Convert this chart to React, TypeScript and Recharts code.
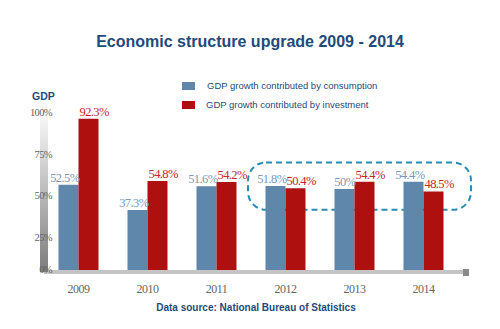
import React from 'react';
import { BarChart, Bar, XAxis, YAxis, LabelList, Legend, ReferenceArea } from 'recharts';

const years = ['2009', '2010', '2011', '2012', '2013', '2014'];
const consumption = [52.5, 37.3, 51.6, 51.8, 50, 54.4];
const investment = [92.3, 54.8, 54.2, 50.4, 54.4, 48.5];
const yTicks = [0, 25, 50, 75, 100];
const seriesNames = ['GDP growth contributed by consumption', 'GDP growth contributed by investment'];

const data = years.map((y, i) => ({ year: y, consumption: consumption[i], investment: investment[i] }));

const BLUE = '#5f87ac';
const RED = '#ae1010';
const NAVY = '#1f4a7a';

const YTick = (props: any) => {
  const { x, y, payload } = props;
  const v = payload.value;
  const dy = v === 0 ? -3 : 6.5;
  return (
    <text x={x + 10} y={y + dy} textAnchor="end" dominantBaseline="central"
      fontFamily="Liberation Serif" fontSize={10.5} fill="#666" letterSpacing={-0.6}>
      {v}%
    </text>
  );
};

const makeLabel = (side: 'left' | 'right', color: string) => (props: any) => {
  const { x, y, width, value } = props;
  const tx = side === 'left' ? x + width + 1 : x + 1;
  return (
    <text x={tx} y={y - 3} textAnchor={side === 'left' ? 'end' : 'start'}
      fontFamily="Liberation Serif" fontSize={12.5} fill={color} letterSpacing={-0.6}>
      {`${value}%`}
    </text>
  );
};

const LegendContent = () => (
  <div style={{ fontFamily: 'Liberation Sans, Arial', fontSize: 9.5, color: NAVY }}>
    {seriesNames.map((n, i) => (
      <div key={n} style={{ display: 'flex', alignItems: 'center', height: 19 }}>
        <span style={{ display: 'inline-block', width: 13, height: 8, background: i === 0 ? BLUE : RED, marginRight: i === 0 ? 12 : 11 }} />
        <span>{n}</span>
      </div>
    ))}
  </div>
);

const DashedBox = (props: any) => {
  const { x, y, width, height } = props;
  return (
    <rect x={x - 3} y={y} width={width + 16} height={height} rx={18} ry={18}
      fill="none" stroke="#2a8cb4" strokeWidth={2} strokeDasharray="6 4" />
  );
};

export default function App() {
  return (
    <div style={{ position: 'absolute', left: 0, top: 0, width: 500, height: 329, background: '#fff' }}>
      <div style={{ position: 'absolute', left: 0, top: 33, width: 500, textAlign: 'center', fontFamily: 'Liberation Sans, Arial', fontWeight: 'bold', fontSize: 16, color: NAVY }}>
        Economic structure upgrade 2009 - 2014
      </div>
      <div style={{ position: 'absolute', left: 32, top: 90, fontFamily: 'Liberation Sans, Arial', fontWeight: 'bold', fontSize: 10.5, color: NAVY }}>
        GDP
      </div>
      <div style={{ position: 'absolute', left: 0, top: 302, width: 512, textAlign: 'center', fontFamily: 'Liberation Sans, Arial', fontWeight: 'bold', fontSize: 10, color: NAVY }}>
        Data source: National Bureau of Statistics
      </div>
      <BarChart width={500} height={329} data={data} barGap={0} barCategoryGap="21%"
        margin={{ top: 106, right: 32, bottom: 32, left: 0 }}>
        <defs>
          <linearGradient id="yg" gradientUnits="userSpaceOnUse" x1="0" y1="118" x2="0" y2="274">
            <stop offset="0" stopColor="#f6f6f6" />
            <stop offset="1" stopColor="#7a7a7a" />
          </linearGradient>
        </defs>
        <XAxis dataKey="year" axisLine={{ stroke: '#c4c4c4', strokeWidth: 4 }} tickLine={false}
          tickMargin={6} height={25} padding={{ left: 0, right: 10 }}
          tick={{ fontFamily: 'Liberation Serif', fontSize: 12, fill: '#666', letterSpacing: -0.5 }} />
        <YAxis domain={[0, 100]} ticks={yTicks} width={44} tickLine={false} tickSize={0}
          axisLine={{ stroke: 'url(#yg)', strokeWidth: 8 }} tick={<YTick />} interval={0} />
        <Legend content={<LegendContent />} layout="vertical" verticalAlign="middle" align="center"
          wrapperStyle={{ position: 'absolute', top: 76, left: 182, width: 240 }} />
        <ReferenceArea x1="2012" x2="2014" y1={37.5} y2={66} ifOverflow="visible" shape={<DashedBox />} />
        <Bar dataKey="consumption" name={seriesNames[0]} fill={BLUE} isAnimationActive={false}>
          <LabelList dataKey="consumption" content={makeLabel('left', '#7b98b9')} />
        </Bar>
        <Bar dataKey="investment" name={seriesNames[1]} fill={RED} isAnimationActive={false}>
          <LabelList dataKey="investment" content={makeLabel('right', '#c0282b')} />
        </Bar>
      </BarChart>
      <div style={{ position: 'absolute', left: 463, top: 269, width: 6, height: 7, background: '#888' }} />
    </div>
  );
}
